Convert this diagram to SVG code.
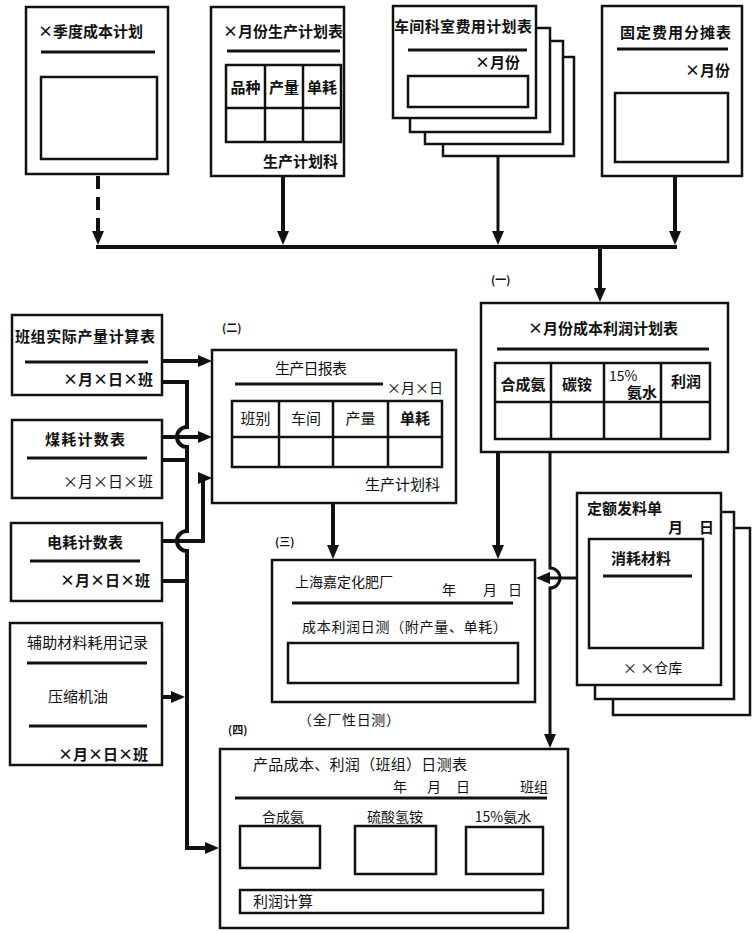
<svg xmlns="http://www.w3.org/2000/svg" width="753" height="933" viewBox="0 0 753 933">
<defs>
<style>
.box{fill:#fff;stroke:#111;stroke-width:2.5}
.in{fill:none;stroke:#111;stroke-width:2.5}
.ul{stroke:#111;stroke-width:3;fill:none}
.t{font-family:"Noto Sans CJK SC","Noto Sans",sans-serif;font-size:15px;fill:#111}
.b{font-weight:700}
.s{font-size:14px}
.lb{font-size:11px;font-weight:700}
.c{stroke:#111;stroke-width:4;fill:none}
.c3{stroke:#111;stroke-width:3;fill:none}
.m{text-anchor:middle}
.e{text-anchor:end}
</style>
<marker id="ah" markerWidth="14" markerHeight="12" refX="9" refY="6" orient="auto" markerUnits="userSpaceOnUse" viewBox="0 0 14 12">
<path d="M0,0 L14,6 L0,12 z" fill="#111"/>
</marker>
</defs>
<rect width="753" height="933" fill="#fff"/>

<g id="quarter-cost-plan">
<rect class="box" x="26" y="7" width="142" height="167"/>
<text class="t b" x="38" y="37">×季度成本计划</text>
<line class="ul" x1="41" y1="52" x2="155" y2="52"/>
<rect class="in" x="41" y="77" width="116" height="82"/>
</g>

<g id="monthly-production-plan">
<rect class="box" x="211" y="7" width="133" height="169"/>
<text class="t b" x="223" y="37">×月份生产计划表</text>
<line class="ul" x1="227" y1="51" x2="340" y2="51"/>
<rect class="in" x="226" y="65" width="115" height="77"/>
<path class="in" d="M226,108 H341 M265,65 V142 M303,65 V142"/>
<text class="t b m" x="245.5" y="93">品种</text>
<text class="t b m" x="284" y="93">产量</text>
<text class="t b m" x="322" y="93">单耗</text>
<text class="t b e" x="338" y="167">生产计划科</text>
</g>

<g id="dept-expense-plan">
<rect class="box" x="443" y="57" width="131" height="99"/>
<rect class="box" x="425" y="41" width="138" height="103"/>
<rect class="box" x="410" y="28" width="140" height="104"/>
<rect class="box" x="393" y="6" width="143" height="112"/>
<text class="t b" x="394" y="32" textLength="138" lengthAdjust="spacing">车间科室费用计划表</text>
<line class="ul" x1="408" y1="50" x2="527" y2="50"/>
<text class="t b e" x="520" y="68">×月份</text>
<rect class="in" x="408" y="76" width="120" height="31"/>
</g>

<g id="fixed-cost-allocation">
<rect class="box" x="602" y="6" width="140" height="170"/>
<text class="t b" x="620" y="38" textLength="111" lengthAdjust="spacing">固定费用分摊表</text>
<line class="ul" x1="617" y1="49" x2="728" y2="49"/>
<text class="t b e" x="730" y="76">×月份</text>
<rect class="in" x="615" y="93" width="113" height="69"/>
</g>

<g id="monthly-cost-profit-plan">
<rect class="box" x="481" y="303" width="247" height="149"/>
<text class="t b" x="528" y="334" textLength="150" lengthAdjust="spacing">×月份成本利润计划表</text>
<line class="ul" x1="497" y1="349" x2="709" y2="349"/>
<rect class="in" x="495" y="363" width="215" height="76"/>
<path class="in" d="M495,402 H710 M551,363 V439 M604,363 V439 M661,363 V439"/>
<text class="t b m" x="523" y="390">合成氨</text>
<text class="t b m" x="577" y="390">碳铵</text>
<text class="t s" x="609" y="381">15%</text>
<text class="t b e" x="657" y="398">氨水</text>
<text class="t b m" x="686" y="387">利润</text>
</g>

<g id="team-output-calc">
<rect class="box" x="12" y="315" width="150" height="80"/>
<text class="t b" x="15" y="342" textLength="140" lengthAdjust="spacing">班组实际产量计算表</text>
<line class="ul" x1="25" y1="362" x2="148" y2="362"/>
<text class="t b e" x="153" y="385">×月×日×班</text>
</g>

<g id="coal-consumption">
<rect class="box" x="12" y="420" width="150" height="78"/>
<text class="t b" x="45" y="445" textLength="80" lengthAdjust="spacing">煤耗计数表</text>
<line class="ul" x1="27" y1="458" x2="147" y2="458"/>
<text class="t e" x="153" y="487">×月×日×班</text>
</g>

<g id="power-consumption">
<rect class="box" x="11" y="523" width="151" height="78"/>
<text class="t b" x="47" y="548" textLength="76" lengthAdjust="spacing">电耗计数表</text>
<line class="ul" x1="30" y1="561" x2="140" y2="561"/>
<text class="t b e" x="150" y="586">×月×日×班</text>
</g>

<g id="aux-material-record">
<rect class="box" x="10" y="623" width="152" height="142"/>
<text class="t" x="27" y="648" textLength="121" lengthAdjust="spacing">辅助材料耗用记录</text>
<line class="ul" x1="27" y1="663" x2="147" y2="663"/>
<text class="t" x="48" y="702">压缩机油</text>
<line class="ul" x1="29" y1="726" x2="147" y2="726"/>
<text class="t b e" x="148" y="760">×月×日×班</text>
</g>

<g id="daily-production-report">
<text class="t lb" x="222" y="332">(二)</text>
<rect class="box" x="212" y="350" width="244" height="153"/>
<text class="t" x="275" y="374" textLength="72" lengthAdjust="spacing">生产日报表</text>
<line class="ul" x1="235" y1="384" x2="383" y2="384"/>
<text class="t s" x="387" y="393">×月×日</text>
<rect class="in" x="232" y="401" width="210" height="66"/>
<path class="in" d="M232,437 H442 M279,401 V467 M333,401 V467 M388,401 V467"/>
<text class="t m" x="255.5" y="424">班别</text>
<text class="t m" x="306" y="424">车间</text>
<text class="t m" x="360.5" y="424">产量</text>
<text class="t b m" x="415" y="424">单耗</text>
<text class="t e" x="440" y="490">生产计划科</text>
</g>

<g id="plant-daily-estimate">
<text class="t lb" x="275" y="546">(三)</text>
<rect class="box" x="272" y="560" width="263" height="142"/>
<text class="t s" x="295" y="587">上海嘉定化肥厂</text>
<text class="t s" x="442" y="595">年</text>
<text class="t s" x="483" y="595">月</text>
<text class="t s" x="508" y="595">日</text>
<line class="ul" x1="292" y1="603" x2="513" y2="603"/>
<text class="t s" x="302" y="632" textLength="205" lengthAdjust="spacing">成本利润日测（附产量、单耗）</text>
<rect class="in" x="288" y="643" width="230" height="40"/>
<text class="t s" x="298" y="725" textLength="102" lengthAdjust="spacing">（全厂性日测）</text>
</g>

<g id="material-issue-slip">
<rect class="box" x="613" y="528" width="137" height="187"/>
<rect class="box" x="595" y="512" width="139" height="187"/>
<rect class="box" x="577" y="493" width="144" height="192"/>
<text class="t b" x="587" y="514" textLength="75" lengthAdjust="spacing">定额发料单</text>
<text class="t b" x="668" y="533">月</text>
<text class="t b" x="699" y="533">日</text>
<rect class="in" x="589" y="539" width="114" height="109"/>
<text class="t b" x="611" y="564">消耗材料</text>
<line class="ul" x1="603" y1="576" x2="692" y2="576"/>
<text class="t s" x="623" y="673">× ×仓库</text>
</g>

<g id="team-daily-estimate">
<text class="t lb" x="228" y="734">(四)</text>
<rect class="box" x="220" y="749" width="348" height="179"/>
<text class="t" x="253" y="770" textLength="214" lengthAdjust="spacing">产品成本、利润（班组）日测表</text>
<text class="t s" x="393" y="792">年</text>
<text class="t s" x="427" y="792">月</text>
<text class="t s" x="456" y="792">日</text>
<text class="t s" x="520" y="792">班组</text>
<line class="ul" x1="235" y1="798" x2="547" y2="798"/>
<text class="t s m" x="283" y="822">合成氨</text>
<text class="t s m" x="395" y="822">硫酸氢铵</text>
<text class="t s m" x="503" y="822">15%氨水</text>
<rect class="in" x="240" y="826" width="80" height="42"/>
<rect class="in" x="355" y="826" width="81" height="48"/>
<rect class="in" x="466" y="827" width="77" height="47"/>
<rect class="in" x="240" y="890" width="303" height="23"/>
<text class="t" x="253" y="907" font-size="13">利润计算</text>
</g>

<g id="connectors">
<line class="c" x1="98" y1="176" x2="98" y2="240" stroke-dasharray="13 8" marker-end="url(#ah)"/>
<line class="c" x1="283" y1="176" x2="283" y2="240" marker-end="url(#ah)"/>
<line class="c3" x1="498" y1="156" x2="498" y2="240" marker-end="url(#ah)"/>
<line class="c" x1="675" y1="176" x2="675" y2="240" marker-end="url(#ah)"/>
<line class="c" x1="96" y1="247" x2="677" y2="247"/>
<text class="t lb" x="491" y="284">(一)</text>
<line class="c" x1="600" y1="247" x2="600" y2="297" marker-end="url(#ah)"/>

<line class="c" x1="162" y1="361" x2="207" y2="361" marker-end="url(#ah)"/>
<line class="c" x1="162" y1="437" x2="207" y2="437" marker-end="url(#ah)"/>
<path class="c" d="M162,541 H203 V478 H207" marker-end="url(#ah)"/>
<line class="c" x1="162" y1="460" x2="187" y2="460"/>
<line class="c" x1="162" y1="581" x2="187" y2="581"/>
<line class="c" x1="162" y1="697" x2="180" y2="697" marker-end="url(#ah)"/>
<path class="c" d="M162,382 H187 V427 A10,10 0 0 0 187,447 V531 A10,10 0 0 0 187,551 V848 H214" marker-end="url(#ah)"/>

<line class="c" x1="333" y1="503" x2="333" y2="554" marker-end="url(#ah)"/>
<line class="c" x1="498" y1="452" x2="498" y2="554" marker-end="url(#ah)"/>
<path class="c3" d="M550,452 V568 A10,10 0 0 1 550,588 V743" marker-end="url(#ah)"/>
<line class="c3" x1="577" y1="578" x2="541" y2="578" marker-end="url(#ah)"/>
</g>
</svg>
